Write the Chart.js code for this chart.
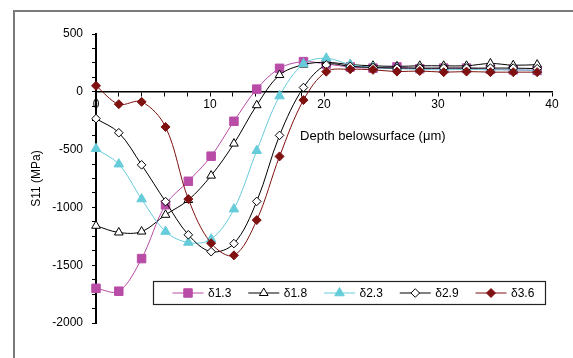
<!DOCTYPE html>
<html><head><meta charset="utf-8">
<script src="https://cdn.jsdelivr.net/npm/chart.js"></script>
<style>html,body{margin:0;padding:0;background:#fff;} canvas{display:block;}</style>
</head><body>
<canvas id="c" width="573" height="358"></canvas>
<script>
// ---- data ----
const depth = [0, 2, 4, 6.1, 8.1, 10.1, 12.1, 14.1, 16.1, 18.2, 20.2, 22.3, 24.3, 26.4, 28.4, 30.5, 32.5, 34.6, 36.6, 38.7];
const s13 = [-1700, -1725, -1443, -977, -774, -557, -255, 23, 203, 261, 240, 215, 205, 215, 200, 205, 205, 195, 190, 185];
const s18 = [-1159, -1217, -1209, -1064, -936, -725, -448, -116, 145, 235, 255, 235, 225, 220, 225, 225, 225, 245, 230, 235];
const s23 = [-493, -626, -928, -1209, -1304, -1275, -1015, -510, -37, 241, 290, 235, 210, 200, 195, 190, 195, 190, 190, 185];
const s29 = [-232, -354, -632, -950, -1237, -1383, -1313, -948, -377, 37, 232, 220, 210, 205, 205, 205, 205, 205, 205, 200];
const s36 = [52, -107, -87, -304, -928, -1310, -1415, -1110, -559, -72, 174, 195, 190, 175, 180, 170, 175, 170, 170, 170];
const seriesNames = ['δ1.3', 'δ1.8', 'δ2.3', 'δ2.9', 'δ3.6'];
const xTickLabels = [0, 10, 20, 30, 40];
const yTickLabels = [500, 0, -500, -1000, -1500, -2000];
const xTitle = 'Depth belowsurface (μm)';
const yTitle = 'S11 (MPa)';

const FONT = '"Liberation Sans", Arial, sans-serif';
const MAG = '#B84CA6', CYAN = '#66CCDA', RED = '#7F1111', BLK = '#000000';

const styles = [
  {color: MAG, fill: MAG, ps: 'rect', r: 6},
  {color: BLK, fill: '#ffffff', ps: 'triangle', r: 5},
  {color: CYAN, fill: CYAN, ps: 'triangle', r: 5.5},
  {color: BLK, fill: '#ffffff', ps: 'rectRot', r: 4.3},
  {color: RED, fill: RED, ps: 'rectRot', r: 4.5}
];
const allSeries = [s13, s18, s23, s29, s36];

const datasets = allSeries.map((vals, i) => ({
  label: seriesNames[i],
  data: vals.map((v, k) => ({x: depth[k], y: v})),
  borderColor: styles[i].color,
  backgroundColor: styles[i].fill,
  pointBackgroundColor: styles[i].fill,
  pointBorderColor: styles[i].color,
  pointBorderWidth: 1,
  pointStyle: styles[i].ps,
  pointRadius: styles[i].r,
  borderWidth: 1,
  tension: 0.35,
  clip: false,
  order: 4 - i
}));

function drawMarker(ctx, st, x, y) {
  ctx.save();
  ctx.fillStyle = st.fill; ctx.strokeStyle = st.color; ctx.lineWidth = 1;
  if (Chart.helpers && Chart.helpers.drawPoint) {
    Chart.helpers.drawPoint(ctx, {pointStyle: st.ps, radius: st.r, rotation: 0, borderWidth: 1}, x, y);
  }
  ctx.restore();
}

const decor = {
  id: 'decor',
  beforeDraw(chart) {
    const ctx = chart.ctx;
    ctx.save();
    ctx.fillStyle = '#fff';
    ctx.fillRect(0, 0, chart.width, chart.height);
    ctx.strokeStyle = '#7a7a7a';
    ctx.lineWidth = 2;
    ctx.strokeRect(14, 11, 800, 800);
    ctx.restore();
  },
  afterDraw(chart) {
    const ctx = chart.ctx;
    const xs = chart.scales.x, ys = chart.scales.y;
    ctx.save();
    // x axis title
    ctx.font = '13px ' + FONT;
    ctx.fillStyle = '#000';
    ctx.textBaseline = 'middle';
    ctx.textAlign = 'left';
    ctx.fillText(xTitle, xs.getPixelForValue(17.9), ys.getPixelForValue(0) + 45);
    // legend
    const bx = 153.5, by = 281.5, bw = 392, bh = 23;
    ctx.fillStyle = '#fff';
    ctx.fillRect(bx, by, bw, bh);
    ctx.strokeStyle = '#222';
    ctx.lineWidth = 1.2;
    ctx.strokeRect(bx, by, bw, bh);
    const cy = by + bh / 2;
    seriesNames.forEach((name, i) => {
      const mx = 188 + i * 75.75;
      ctx.strokeStyle = styles[i].color;
      ctx.lineWidth = 1;
      ctx.beginPath(); ctx.moveTo(mx - 15.5, cy); ctx.lineTo(mx + 15.5, cy); ctx.stroke();
      drawMarker(ctx, styles[i], mx, cy);
      ctx.fillStyle = '#000';
      ctx.font = '12px ' + FONT;
      ctx.textAlign = 'left';
      ctx.textBaseline = 'middle';
      ctx.fillText(name, mx + 20, cy + 0.5);
    });
    ctx.restore();
  }
};

new Chart(document.getElementById('c'), {
  type: 'line',
  data: {datasets},
  plugins: [decor],
  options: {
    responsive: false,
    animation: false,
    devicePixelRatio: 1,
    layout: {padding: {left: 13, top: 34, right: 21, bottom: 35}},
    plugins: {legend: {display: false}, tooltip: {enabled: false}, title: {display: false}},
    scales: {
      x: {
        type: 'linear',
        position: {y: 0},
        min: 0, max: 40,
        grid: {display: true, drawOnChartArea: false, drawTicks: true, tickLength: 4, tickColor: '#000'},
        border: {display: true, color: '#000', width: 1.5},
        ticks: {
          stepSize: 2, autoSkip: false, maxRotation: 0, padding: 2, color: '#000',
          font: {size: 12, family: FONT},
          callback: v => xTickLabels.includes(v) ? String(v) : ''
        }
      },
      y: {
        type: 'linear',
        min: -2000, max: 500,
        afterFit: s => { s.width = 83; },
        grid: {display: true, drawOnChartArea: false, drawTicks: true, tickLength: 4, tickColor: '#000'},
        border: {display: true, color: '#000', width: 2},
        title: {display: true, text: yTitle, color: '#000', font: {size: 12, family: FONT}, padding: {top: 16, bottom: 0}},
        ticks: {
          stepSize: 125, maxTicksLimit: 100, autoSkip: false, padding: 9, color: '#000',
          font: {size: 12, family: FONT},
          callback: v => yTickLabels.includes(v) ? String(v) : ''
        }
      }
    }
  }
});
</script>
</body></html>
